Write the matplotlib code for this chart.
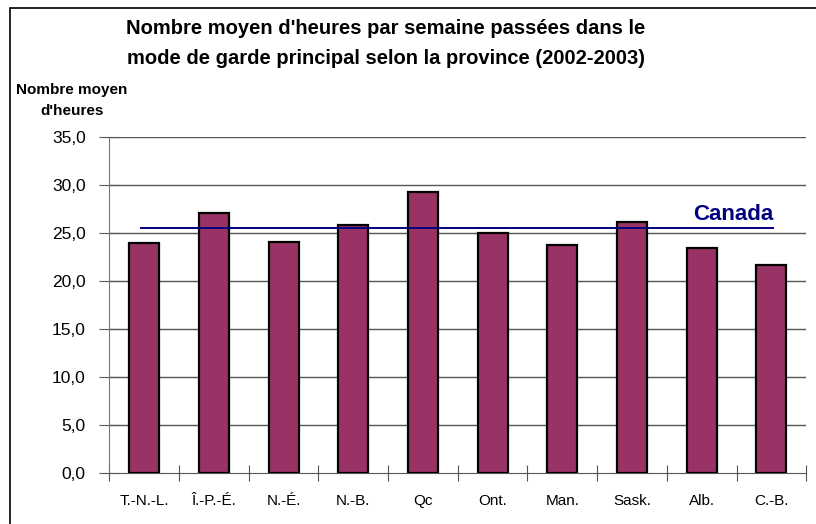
import matplotlib.pyplot as plt
from matplotlib.patches import Rectangle
from matplotlib.ticker import FixedLocator, FuncFormatter

# données
provinces = ["T.-N.-L.", "Î.-P.-É.", "N.-É.", "N.-B.", "Qc", "Ont.", "Man.", "Sask.", "Alb.", "C.-B."]
heures = [24.0, 27.1, 24.1, 25.8, 29.3, 25.0, 23.7, 26.1, 23.4, 21.7]
canada = 25.5
y_ticks = [0, 5, 10, 15, 20, 25, 30, 35]

plt.rcParams["font.family"] = ["Liberation Sans", "DejaVu Sans"]

fig = plt.figure(figsize=(8.16, 5.24), dpi=100)
ax = fig.add_axes([0.134, 0.0968, 0.854, 0.642])

# cadre autour du graphique
fig.patches.append(Rectangle((10 / 816, -0.1), 1.2, 1.1 - 8 / 524,
                             transform=fig.transFigure, fill=False,
                             edgecolor="black", linewidth=1.2))

x = list(range(len(provinces)))
ax.bar(x, heures, width=0.43, color="#993366", edgecolor="black", linewidth=1.6, zorder=3)

ax.set_xlim(-0.5, len(provinces) - 0.5)
ax.set_ylim(0, 35)

# grille horizontale
for v in y_ticks[1:]:
    ax.axhline(v, color="#555555", linewidth=1.0, zorder=1)

# ligne Canada
ax.axhline(canada, xmin=0.046, xmax=0.953, color="#000080", linewidth=1.4, zorder=4)
ax.text(len(provinces) - 0.5 - 0.047 * len(provinces), canada + 0.3, "Canada",
        ha="right", va="bottom", fontsize=16, fontweight="bold", color="#000080")

ax.yaxis.set_major_locator(FixedLocator(y_ticks))
ax.yaxis.set_major_formatter(FuncFormatter(lambda v, p: f"{v:.1f}".replace(".", ",")))
ax.set_xticks([i - 0.5 for i in range(len(provinces) + 1)], minor=False)
ax.set_xticklabels([])
ax.set_xticks(x, minor=True)
ax.set_xticklabels(provinces, minor=True, fontsize=11)
ax.tick_params(axis="x", which="minor", length=0, pad=15)
ax.tick_params(axis="x", which="major", length=12, direction="inout", color="#555555")
ax.tick_params(axis="y", length=14, direction="inout", labelsize=12.5, color="#555555", pad=10)

for s in ["top", "right"]:
    ax.spines[s].set_visible(False)
ax.spines["left"].set_color("#777777")
ax.spines["bottom"].set_color("#555555")

fig.text(0.473, 0.946, "Nombre moyen d'heures par semaine passées dans le",
         ha="center", va="center", fontsize=14.5, fontweight="bold")
fig.text(0.473, 0.889, "mode de garde principal selon la province (2002-2003)",
         ha="center", va="center", fontsize=14.5, fontweight="bold")
fig.text(0.088, 0.808, "Nombre moyen\nd'heures", ha="center", va="center",
         fontsize=11, fontweight="bold", linespacing=1.6)

fig.savefig("out.png", dpi=100)
